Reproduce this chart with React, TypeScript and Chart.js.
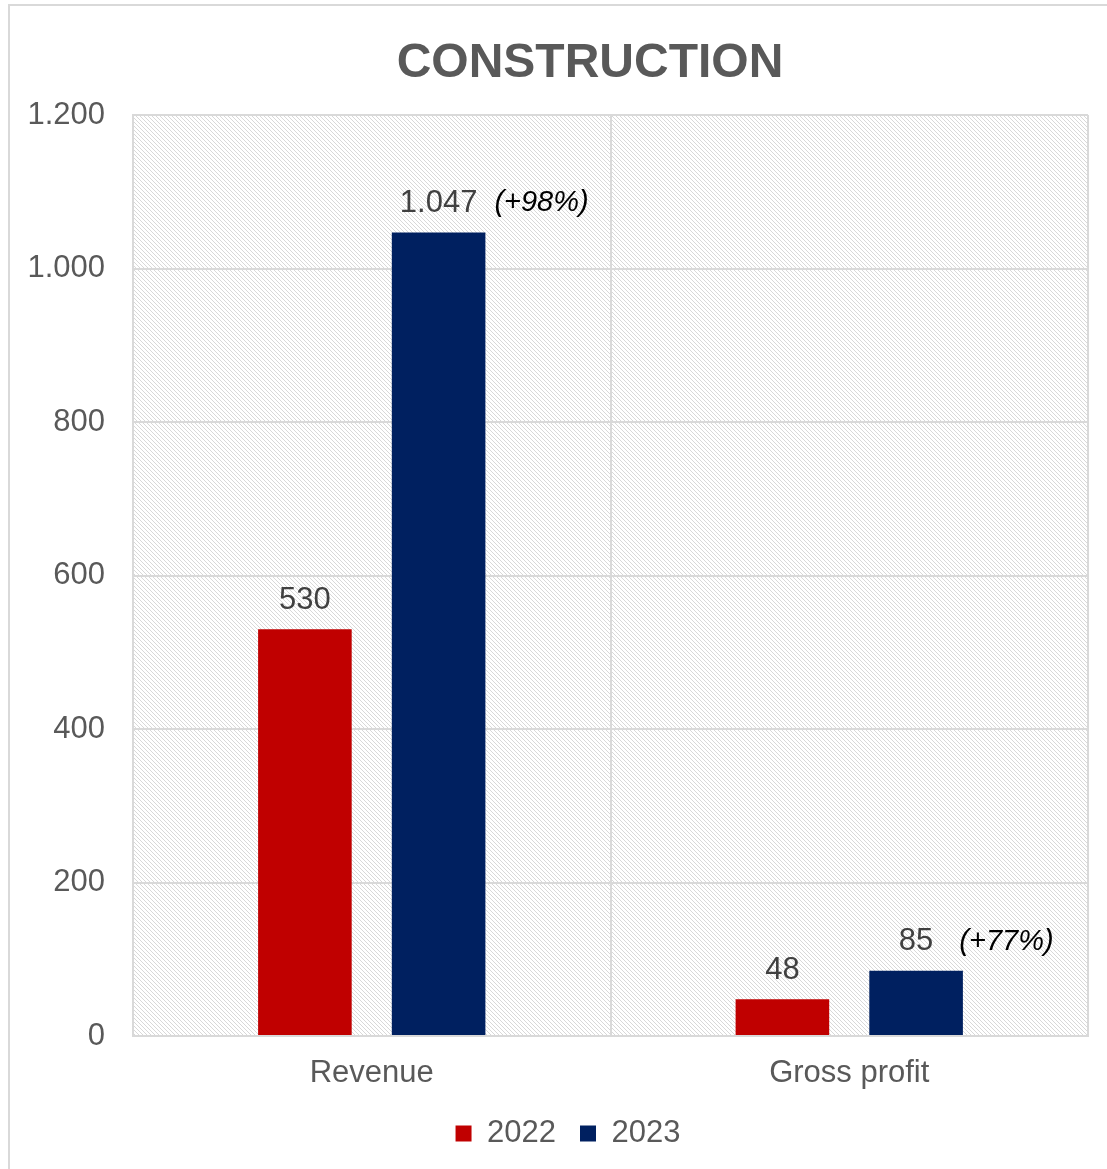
import React, { useEffect, useRef } from "react";
import { Chart, registerables } from "chart.js";

Chart.register(...registerables);

const titleText = "CONSTRUCTION";
const categories = ["Revenue", "Gross profit"];
const seriesNames = ["2022", "2023"];
const values2022 = [530, 48];
const values2023 = [1047, 85];
const growth2023 = ["(+98%)", "(+77%)"];
const yMin = 0;
const yMax = 1200;
const yStep = 200;

const FONT = "'Liberation Sans', Arial, sans-serif";
const GRAY = "#595959";
const GRID = "#d9d9d9";

const fmt = (n: number) => String(n).replace(/\B(?=(\d{3})+(?!\d))/g, ".");

function makePattern(ctx: CanvasRenderingContext2D) {
  const c = document.createElement("canvas");
  c.width = 4;
  c.height = 4;
  const p = c.getContext("2d")!;
  p.fillStyle = "#ffffff";
  p.fillRect(0, 0, 4, 4);
  p.fillStyle = "#d8d8d8";
  for (let i = 0; i < 4; i++) p.fillRect(i, i, 1, 1);
  return ctx.createPattern(c, "repeat");
}

const hatchPlugin = {
  id: "hatch",
  beforeDraw(chart: any) {
    const { ctx, chartArea } = chart;
    const l = chart.legend;
    if (l) {
      l.left = chartArea.left - 85;
      l.right = chartArea.right;
    }
    const pat = makePattern(ctx);
    if (!pat) return;
    ctx.save();
    ctx.fillStyle = pat;
    ctx.fillRect(chartArea.left, chartArea.top, chartArea.right - chartArea.left, chartArea.bottom - chartArea.top);
    ctx.restore();
  },
};

const titlePlugin = {
  id: "customTitle",
  afterDraw(chart: any) {
    const { ctx } = chart;
    ctx.save();
    ctx.font = `bold 48px ${FONT}`;
    ctx.fillStyle = GRAY;
    ctx.textAlign = "center";
    ctx.textBaseline = "middle";
    ctx.fillText(titleText, 590, 64);
    ctx.restore();
  },
};

const labelPlugin = {
  id: "valueLabels",
  afterDatasetsDraw(chart: any) {
    const { ctx } = chart;
    ctx.save();
    chart.data.datasets.forEach((ds: any, di: number) => {
      const meta = chart.getDatasetMeta(di);
      meta.data.forEach((el: any, i: number) => {
        const txt = fmt(ds.data[i]);
        const y = el.y - 29;
        ctx.font = `31px ${FONT}`;
        ctx.fillStyle = "#404040";
        ctx.textAlign = "center";
        ctx.textBaseline = "middle";
        ctx.fillText(txt, el.x, y);
        if (di === 1) {
          const w = ctx.measureText(txt).width;
          ctx.font = `italic 29px ${FONT}`;
          ctx.fillStyle = "#000000";
          ctx.textAlign = "left";
          ctx.fillText(growth2023[i], el.x + w / 2 + (i === 0 ? 17 : 26), y);
        }
      });
    });
    ctx.restore();
  },
};

export default function App() {
  const ref = useRef<HTMLCanvasElement | null>(null);
  useEffect(() => {
    if (!ref.current) return;
    const chart = new Chart(ref.current, {
      type: "bar",
      data: {
        labels: categories,
        datasets: [
          {
            label: seriesNames[0],
            data: values2022,
            backgroundColor: "#c00000",
            categoryPercentage: 0.56,
            barPercentage: 0.7,
          },
          {
            label: seriesNames[1],
            data: values2023,
            backgroundColor: "#002060",
            categoryPercentage: 0.56,
            barPercentage: 0.7,
          },
        ],
      },
      options: {
        animation: false,
        responsive: false,
        maintainAspectRatio: false,
        layout: { padding: { left: 8, right: 19, top: 115, bottom: 10 } },
        plugins: {
          title: { display: false },
          tooltip: { enabled: false },
          legend: {
            display: true,
            position: "bottom",
            labels: {
              boxWidth: 16,
              boxHeight: 16,
              padding: 24,
              color: GRAY,
              font: { family: FONT, size: 31 },
            },
          },
        },
        scales: {
          x: {
            grid: { color: GRID, lineWidth: 2, drawTicks: false, offset: true },
            border: { color: GRID, width: 2 },
            ticks: { color: GRAY, padding: 19, font: { family: FONT, size: 31 } },
            afterFit: (s: any) => {
              s.height = 58;
            },
          },
          y: {
            min: yMin,
            max: yMax,
            grid: { color: GRID, lineWidth: 2, drawTicks: false },
            border: { color: GRID, width: 2 },
            ticks: {
              stepSize: yStep,
              color: GRAY,
              padding: 28,
              font: { family: FONT, size: 31 },
              callback: (v: any) => fmt(Number(v)),
            },
            afterFit: (s: any) => {
              s.width = 125;
            },
          },
        },
      },
      plugins: [hatchPlugin, titlePlugin, labelPlugin],
    });
    return () => chart.destroy();
  }, []);

  return (
    <div style={{ position: "absolute", left: 0, top: 0, width: 1107, height: 1169, overflow: "hidden", background: "#fff" }}>
      <div
        style={{
          position: "absolute",
          left: 8,
          top: 4,
          width: 1200,
          height: 1300,
          border: "2px solid #d9d9d9",
          boxSizing: "border-box",
        }}
      />
      <canvas ref={ref} width={1107} height={1169} style={{ position: "absolute", left: 0, top: 0, width: 1107, height: 1169 }} />
    </div>
  );
}
